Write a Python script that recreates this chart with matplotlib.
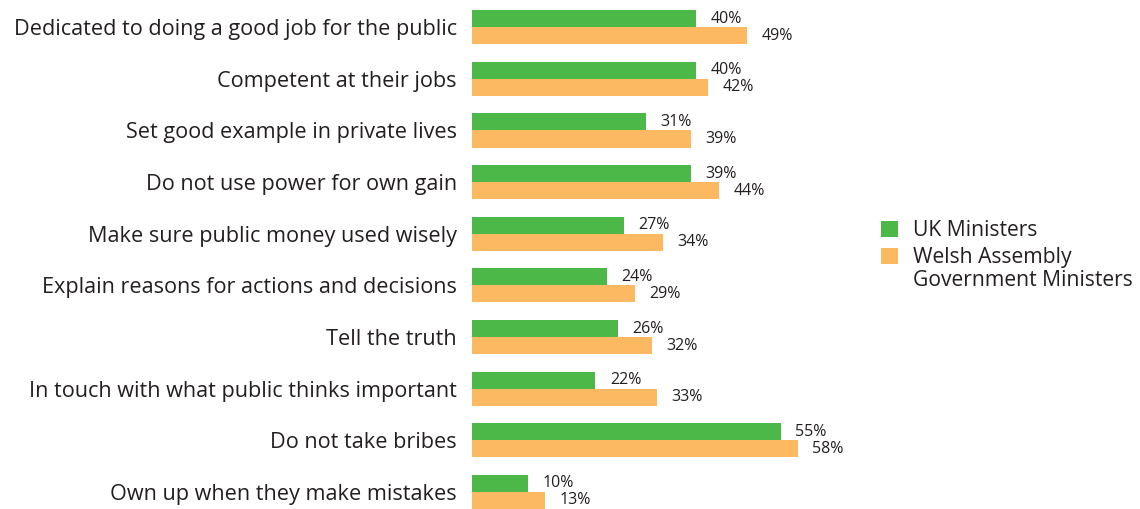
import matplotlib.pyplot as plt
import numpy as np

plt.rcParams['font.family'] = ['Open Sans', 'DejaVu Sans']

# survey results, percent agreeing
categories = [
    "Dedicated to doing a good job for the public",
    "Competent at their jobs",
    "Set good example in private lives",
    "Do not use power for own gain",
    "Make sure public money used wisely",
    "Explain reasons for actions and decisions",
    "Tell the truth",
    "In touch with what public thinks important",
    "Do not take bribes",
    "Own up when they make mistakes",
]
uk_ministers = [40, 40, 31, 39, 27, 24, 26, 22, 55, 10]
welsh_ministers = [49, 42, 39, 44, 34, 29, 32, 33, 58, 13]
series_names = ["UK Ministers", "Welsh Assembly", "Government Ministers"]

green = '#4cb848'
orange = '#fdb962'
textcol = '#231f20'

fig = plt.figure(figsize=(11.4, 5.09), dpi=100)
ax = fig.add_axes([472 / 1140, 0.0, 0.32, 0.98])

y = np.arange(len(categories))
h = 0.33

b1 = ax.barh(y - h / 2, uk_ministers, height=h, color=green)
b2 = ax.barh(y + h / 2, welsh_ministers, height=h, color=orange)

for bars, vals in [(b1, uk_ministers), (b2, welsh_ministers)]:
    for bar, v in zip(bars, vals):
        ax.annotate(f"{v}%", xy=(bar.get_width(), bar.get_y() + bar.get_height() / 2),
                    xytext=(10.5, 0), textcoords='offset points',
                    ha='left', va='center', fontsize=11.5, color=textcol)

ax.set_xlim(0, 65)
ax.set_ylim(9.33, -0.33)
ax.set_yticks(y)
ax.set_yticklabels(categories, fontsize=15.6, color=textcol)
ax.tick_params(axis='y', length=0, pad=11)
ax.set_xticks([])
for s in ax.spines.values():
    s.set_visible(False)

# legend: second label wraps onto a line with no marker of its own
leg = fig.legend(handles=[b1, b2], labels=series_names[:2], loc='upper left',
                 bbox_to_anchor=(862 / 1140, 1 - 201 / 509),
                 frameon=False, fontsize=15.2, handlelength=0.8, handleheight=0.8,
                 handletextpad=0.7, labelspacing=0.3, labelcolor=textcol)
fig.canvas.draw()
last = leg.get_texts()[-1]
bb = last.get_window_extent().transformed(fig.transFigure.inverted())
fig.text(bb.x0, bb.y0 - 2 / 509, series_names[2], fontsize=15.2, color=textcol,
         ha='left', va='top')

fig.savefig('out.png', dpi=100)
